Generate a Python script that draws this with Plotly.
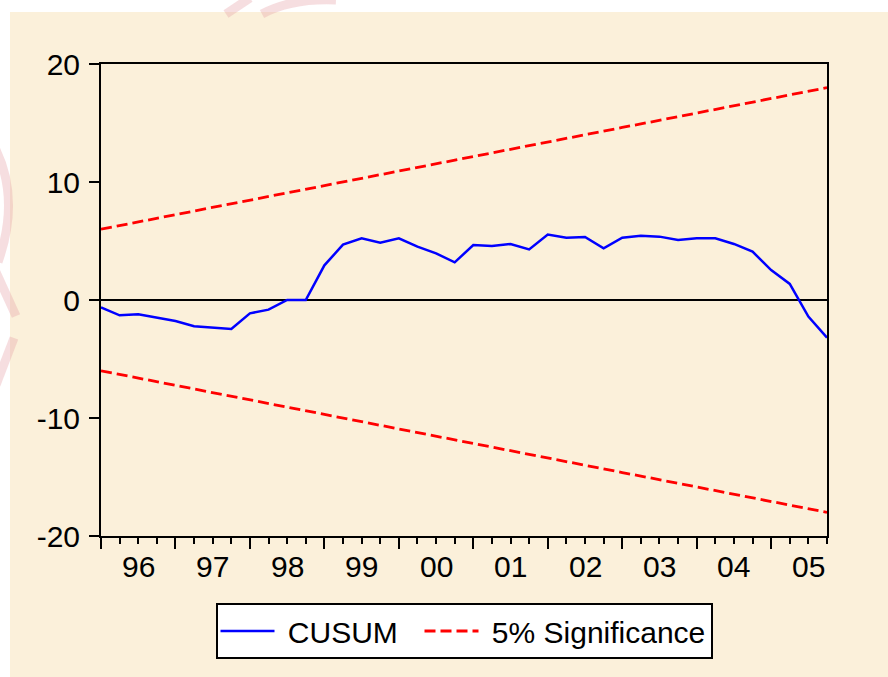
import plotly.graph_objects as go

# ---- data (quarterly, 1996Q1 .. 2005Q4) ----
years = list(range(1996, 2006))
quarters = [1, 2, 3, 4]
periods = [(y, q) for y in years for q in quarters]

cusum = [-0.62, -1.30, -1.21, -1.50, -1.78, -2.23, -2.32, -2.46, -1.13, -0.82,
         0.00, 0.00, 2.94, 4.69, 5.23, 4.86, 5.23, 4.52, 3.95, 3.19,
         4.66, 4.58, 4.75, 4.29, 5.54, 5.28, 5.34, 4.38, 5.28, 5.45,
         5.37, 5.08, 5.23, 5.23, 4.75, 4.10, 2.54, 1.36, -1.41, -3.19]

upper_5pct = [6.00, 6.31, 6.62, 6.92, 7.23, 7.54, 7.85, 8.15, 8.46, 8.77,
              9.08, 9.38, 9.69, 10.00, 10.31, 10.62, 10.92, 11.23, 11.54, 11.85,
              12.15, 12.46, 12.77, 13.08, 13.38, 13.69, 14.00, 14.31, 14.62, 14.92,
              15.23, 15.54, 15.85, 16.15, 16.46, 16.77, 17.08, 17.38, 17.69, 18.00]

lower_5pct = [-6.00, -6.31, -6.62, -6.92, -7.23, -7.54, -7.85, -8.15, -8.46, -8.77,
              -9.08, -9.38, -9.69, -10.00, -10.31, -10.62, -10.92, -11.23, -11.54, -11.85,
              -12.15, -12.46, -12.77, -13.08, -13.38, -13.69, -14.00, -14.31, -14.62, -14.92,
              -15.23, -15.54, -15.85, -16.15, -16.46, -16.77, -17.08, -17.38, -17.69, -18.00]

year_labels = ["96", "97", "98", "99", "00", "01", "02", "03", "04", "05"]
y_ticks = [-20, -10, 0, 10, 20]
y_tick_text = ["-20", "-10", "0", "10", "20"]
series_names = ["CUSUM", "5% Significance"]

# time index: year + (quarter-1)/4
x = [y + (q - 1) / 4 for (y, q) in periods]

FONT = "Liberation Sans, Arial, sans-serif"
FS = 30
BEIGE = "#FBF0DA"
PINK = "rgba(228,160,165,0.35)"
NB = "\u00a0"

# plot-area geometry in pixels (figure 888x677)
L, R, T, B = 101, 827, 64, 536
PW, PH = R - L, B - T


def px(xp):
    return (xp - L) / PW


def py(yp):
    return (B - yp) / PH


fig = go.Figure()
fig.add_trace(go.Scatter(x=x, y=cusum, mode="lines", name=NB + series_names[0] + NB + NB,
                         line=dict(color="#0000FF", width=2.5)))
fig.add_trace(go.Scatter(x=x, y=upper_5pct, mode="lines", name=NB + series_names[1],
                         legendgroup="sig",
                         line=dict(color="#FF0000", width=2.8, dash="11px,5px")))
fig.add_trace(go.Scatter(x=x, y=lower_5pct, mode="lines", name=NB + series_names[1],
                         legendgroup="sig", showlegend=False,
                         line=dict(color="#FF0000", width=2.8, dash="11px,5px")))

xr = [years[0], years[-1] + 0.75]

# year labels centred between the yearly (Q1) ticks
annotations = [
    dict(x=yv + 0.5, y=py(566), xref="x", yref="paper", text=lab,
         showarrow=False, xanchor="center", yanchor="middle",
         font=dict(family=FONT, size=FS, color="black"))
    for yv, lab in zip(years, year_labels)
]


def stroke(path):
    return dict(type="path", xref="paper", yref="paper", layer="below",
                path=path, line=dict(color=PINK, width=9))


shapes = [
    dict(type="rect", xref="paper", yref="paper", layer="below",
         x0=px(10), x1=px(888), y0=py(677), y1=py(12),
         fillcolor=BEIGE, line=dict(width=0)),
    stroke("M %f %f L %f %f" % (px(226), py(14), px(250), py(-2))),
    stroke("M %f %f Q %f %f %f %f" % (px(262), py(14), px(292), py(-2), px(336), py(0))),
    stroke("M %f %f Q %f %f %f %f" % (px(-4), py(150), px(20), py(200), px(-2), py(262))),
    stroke("M %f %f L %f %f" % (px(-4), py(272), px(16), py(316))),
    stroke("M %f %f L %f %f" % (px(-4), py(385), px(14), py(338))),
]

fig.update_layout(
    width=888, height=677, autosize=False,
    margin=dict(l=L, r=888 - R, t=T, b=677 - B, pad=0),
    paper_bgcolor="white",
    plot_bgcolor="rgba(0,0,0,0)",
    font=dict(family=FONT, size=FS, color="black"),
    showlegend=True,
    legend=dict(orientation="h", x=0.5, xanchor="center", y=py(603), yanchor="top",
                bgcolor="white", bordercolor="black", borderwidth=2,
                font=dict(family=FONT, size=FS, color="black"),
                itemwidth=54, tracegroupgap=0),
    xaxis=dict(range=xr, showgrid=False, zeroline=False,
               showline=True, linecolor="black", linewidth=2, mirror=True,
               tickmode="array", tickvals=years, ticktext=[""] * len(years),
               ticks="outside", ticklen=11, tickwidth=2, tickcolor="black",
               minor=dict(ticks="outside", tickmode="linear", tick0=years[0], dtick=0.25,
                          ticklen=6, tickwidth=2, tickcolor="black", showgrid=False)),
    yaxis=dict(range=[-20, 20], showgrid=False,
               zeroline=True, zerolinecolor="black", zerolinewidth=2,
               showline=True, linecolor="black", linewidth=2, mirror=True,
               tickmode="array", tickvals=y_ticks, ticktext=y_tick_text,
               ticks="outside", ticklen=10, tickwidth=2, tickcolor="black",
               ticklabelstandoff=3,
               tickfont=dict(family=FONT, size=FS, color="black")),
    shapes=shapes,
    annotations=annotations,
)

fig.write_html("out.html", config={"displayModeBar": False},
               post_script="document.body.style.margin='0px';document.body.style.padding='0px';")
